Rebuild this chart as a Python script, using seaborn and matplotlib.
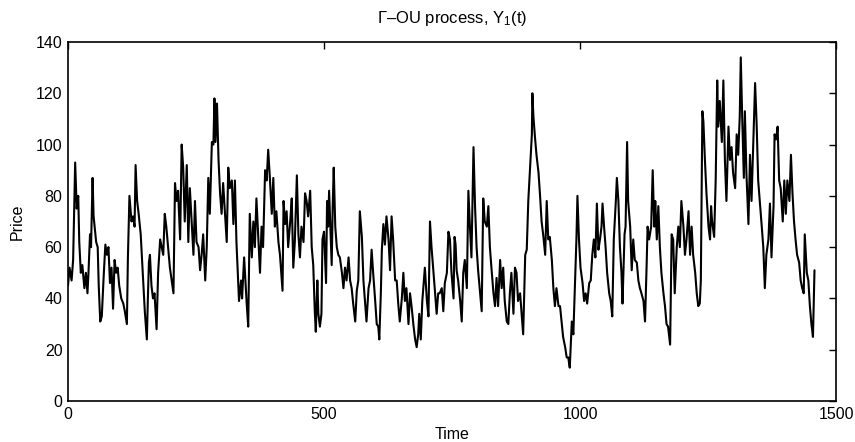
import matplotlib
matplotlib.use("Agg")
import matplotlib.pyplot as plt
import seaborn as sns
import pandas as pd

time = [0,3,7,10,14,17,20,22,25,28,32,35,38,40,43,45,48,50,55,58,60,63,66,70,73,76,79,82,85,88,91,94,97,100,104,108,111,115,117,120,124,127,130,132,135,138,142,146,150,154,156,158,160,163,166,169,173,176,180,186,189,192,199,206,209,212,215,219,222,225,228,232,235,238,
        242,245,248,251,255,258,261,264,268,271,274,277,281,284,286,288,291,294,297,300,303,307,310,313,316,320,323,326,329,334,338,340,344,349,352,355,359,362,365,368,372,375,378,381,385,388,391,394,398,401,404,407,411,414,419,421,424,427,430,434,437,440,443,447,450,453,456,460,463,466,469,
        473,476,479,482,484,487,489,492,495,497,500,504,506,508,510,513,515,517,519,522,525,528,531,535,538,541,544,548,551,554,557,561,564,567,570,574,577,580,583,587,590,593,596,600,603,606,608,611,613,616,619,622,626,629,632,635,639,642,645,648,652,655,658,661,665,668,671,675,678,681,684,686,689,692,695,697,701,704,707,710,714,717,720,723,726,
        730,733,736,740,743,746,749,753,755,757,759,762,766,769,772,775,779,782,785,788,792,795,798,801,805,808,811,814,818,821,824,827,831,834,837,840,844,847,850,853,857,860,863,866,870,873,876,879,883,886,889,893,896,899,902,906,907,909,912,915,919,922,925,928,932,935,938,941,945,948,951,954,958,961,
        964,967,971,974,977,980,984,987,990,993,995,998,1001,1005,1008,1011,1014,1018,1021,1024,1027,1030,1033,1036,1039,1042,1044,1047,1050,1053,1057,1060,1063,1066,1070,1072,1075,1078,1081,1083,1087,1089,1092,1094,1098,1101,1104,1107,1111,1114,1117,1120,1124,1127,1130,1132,1135,1139,1142,1145,1147,1150,1153,1156,1159,1163,1166,1169,1172,1176,1179,1182,1185,1189,1192,1195,1198,1202,1205,
        1208,1212,1215,1218,1221,1225,1228,1231,1234,1236,1239,1241,1244,1247,1251,1254,1256,1258,1262,1265,1268,1270,1273,1277,1280,1283,1286,1290,1293,1296,1299,1303,1306,1309,1312,1314,1317,1320,1322,1325,1329,1332,1335,1338,1342,1345,1348,1352,1355,1358,1361,1364,1368,1371,1374,1378,1380,1383,1386,1389,1392,1396,1399,1402,1405,1409,1412,1415,1418,1421,1424,1428,1431,1434,1437,1439,1443,1446,1449,1452,1455,1458]

price = [45,52,47,55,93,75,80,62,50,53,44,50,42,50,65,60,87,72,62,60,45,31,33,50,61,57,60,46,52,36,55,50,52,45,40,38,35,30,56,80,70,72,68,92,78,73,65,50,35,24,40,54,57,45,40,42,28,50,63,57,73,68,52,42,85,78,82,63,100,91,70,92,62,83,
         68,57,78,62,60,51,57,65,47,60,87,73,101,100,118,101,116,94,81,73,85,72,62,91,83,86,69,86,62,39,47,40,56,38,29,73,56,70,60,79,62,50,68,60,90,86,98,88,73,87,68,74,62,57,43,78,69,74,60,70,79,52,62,88,65,56,68,62,81,78,72,
         82,60,53,35,27,47,34,29,34,63,66,46,78,68,82,65,53,76,91,68,60,57,56,50,44,52,47,56,47,44,38,31,43,47,74,64,47,39,31,44,47,59,50,39,30,29,24,42,59,69,61,72,63,51,72,63,47,47,38,31,40,50,39,44,30,42,37,29,24,21,26,34,24,39,47,52,39,33,70,60,50,42,34,42,42,
         44,35,46,50,66,63,50,40,64,61,51,47,39,31,50,55,44,82,68,56,99,76,60,51,42,35,79,70,68,76,60,52,42,37,48,37,55,44,52,39,31,30,42,50,34,52,50,39,42,34,26,57,59,78,89,104,120,111,103,96,89,80,70,65,57,78,63,64,55,44,37,44,37,37,
         31,25,21,17,17,13,31,26,44,63,80,63,52,46,39,42,38,46,47,57,63,56,77,59,63,68,77,68,60,50,42,39,33,63,78,87,78,60,50,38,65,68,101,78,68,51,63,55,54,47,44,42,39,31,52,68,63,68,90,68,78,63,76,60,50,42,37,30,29,22,65,63,42,60,68,60,78,68,57,
         63,74,57,68,57,50,42,37,38,47,113,109,94,81,68,63,76,70,64,86,125,107,117,101,125,94,78,107,94,99,89,83,104,96,111,134,109,87,113,89,69,96,78,98,124,108,86,76,68,60,44,57,63,77,56,76,104,102,107,86,83,70,86,73,86,78,96,81,70,63,57,54,47,44,42,65,50,47,37,30,25,51]

xticks = [0, 500, 1000, 1500]
yticks = [0, 20, 40, 60, 80, 100, 120, 140]

df = pd.DataFrame({"Time": time, "Price": price})

sns.set_style("white")
plt.rcParams["font.family"] = ["Liberation Sans", "DejaVu Sans"]
plt.rcParams["mathtext.fontset"] = "custom"
plt.rcParams["mathtext.rm"] = "Liberation Sans"
plt.rcParams["mathtext.it"] = "Liberation Sans"
plt.rcParams["text.color"] = "black"
plt.rcParams["axes.labelcolor"] = "black"

fig = plt.figure(figsize=(8.55, 4.42), dpi=100)
ax = fig.add_axes([68/855, 1 - 401/442, (836-68)/855, (401-42)/442])

sns.lineplot(data=df, x="Time", y="Price", ax=ax, color="black",
             linewidth=1.5, estimator=None, sort=False)

ax.set_xlim(0, 1500)
ax.set_ylim(0, 140)
ax.set_xticks(xticks)
ax.set_yticks(yticks)
ax.tick_params(direction="in", length=5, width=1, top=True, right=True,
               labelsize=11.5, colors="black", pad=4)
for s in ax.spines.values():
    s.set_visible(True)
    s.set_color("black")
    s.set_linewidth(1.2)

ax.set_xlabel("Time", fontsize=11.5, labelpad=4, color="black")
ax.set_ylabel("Price", fontsize=11.5, labelpad=8, color="black")
ax.set_title("\u0393\u2013OU process, Y$_1$(t)", fontsize=12, pad=14, color="black")

fig.savefig("out.png", dpi=100)
